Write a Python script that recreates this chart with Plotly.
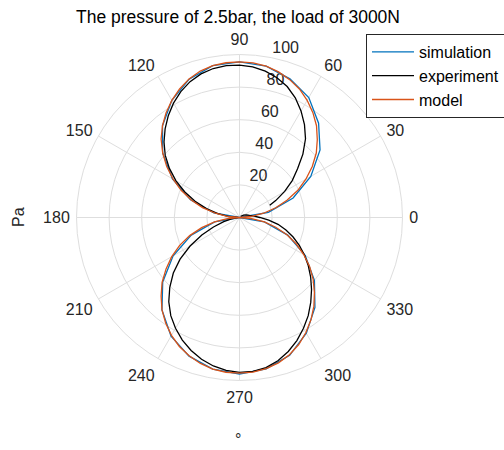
import plotly.graph_objects as go

# Angles (degrees) and pressure readings (Pa) for each series
theta_model = list(range(0, 361, 5))
r_model = [0, 7, 15, 23, 31, 39.5, 47, 54.5, 61.5, 67.5, 73.5, 78.5, 83, 87, 90,
           92.5, 94.3, 95.2, 95.5, 95.3, 94.6, 93, 90.5, 87, 83, 78.5, 73.5, 68,
           61.5, 54.5, 47, 39.5, 31.5, 23.5, 15, 7, 0,
           7.5, 15.5, 24, 32.5, 40.5, 48, 55, 62, 68, 74, 79, 83.5, 87.3, 90.3,
           92.7, 94.4, 95.3, 95.5, 95.2, 94.2, 92.3, 89.6, 86, 81.5, 76.5, 71,
           65, 59, 52.5, 45.5, 38.5, 31, 23, 15.5, 7.5, 0]

theta_sim = list(range(0, 361, 10))
r_sim = [0, 18, 35, 50.5, 64.5, 75.5, 85, 90.5, 94.3, 95.5,
         94.6, 90.3, 83, 73.5, 61.5, 47.5, 32, 16, 0,
         15.5, 31.5, 47, 61.5, 74, 84, 90.5, 94.5, 96,
         94.3, 90, 82, 72, 60, 46.5, 31.5, 15.5, 0]

theta_exp = [22, 25, 30, 35, 40, 45, 50, 55, 60, 65, 70, 75, 80, 85, 90, 95,
             100, 105, 110, 115, 120, 125, 130, 135, 140, 145, 150, 155, 160,
             165, 170, 175, 180, 185, 190, 195, 200, 205, 210, 215, 220, 225,
             230, 235, 240, 245, 250, 255, 260, 265, 270, 275, 280, 285, 290,
             295, 300, 305, 310, 315, 320, 325, 330, 335, 340, 345, 350, 355,
             360, 365, 370, 375, 380, 390, 400]
r_exp = [20, 24.5, 32, 39.5, 46.5, 55, 63, 69.5, 75.5, 81, 85.5, 88.8, 91.2,
         92.8, 93.5, 93.5, 92.8, 91.2, 88.7, 85.2, 81, 76.2, 71, 65.5, 59.5,
         52.5, 45, 37, 29, 21, 13.5, 6.5, 1, 2, 5, 10, 17, 25.5, 35, 44.5, 53,
         60.5, 67.5, 73.5, 78.5, 83, 86.8, 90, 92.5, 94.2, 95, 94.8, 93.5, 91,
         87.5, 83.3, 78.5, 73.5, 68, 62.5, 57, 51.5, 46, 40.5, 35, 29.5, 24, 18,
         12.5, 9, 6.8, 5.5, 4.5, 2.8, 1]

angle_ticks = list(range(0, 360, 30))
radial_ticks = [20, 40, 60, 80, 100]
radial_label_angle = 80

BLUE = "#0072BD"
ORANGE = "#D95319"
GRID = "#dedede"
TEXT = "#262626"
FONT = "Liberation Sans, Arial, sans-serif"

fig = go.Figure()

# radial tick labels, set just up-right of the 80 degree spoke
fig.add_trace(go.Scatterpolar(
    r=radial_ticks, theta=[radial_label_angle] * len(radial_ticks),
    mode="text", text=["\u00a0" + str(t) for t in radial_ticks],
    textposition="top right",
    textfont=dict(size=16, color=TEXT, family=FONT),
    cliponaxis=False, showlegend=False, hoverinfo="skip"))

fig.add_trace(go.Scatterpolar(theta=theta_sim, r=r_sim, mode="lines", name="simulation",
                              line=dict(color=BLUE, width=1.3)))
fig.add_trace(go.Scatterpolar(theta=theta_exp, r=r_exp, mode="lines", name="experiment",
                              line=dict(color="black", width=1.3)))
fig.add_trace(go.Scatterpolar(theta=theta_model, r=r_model, mode="lines", name="model",
                              line=dict(color=ORANGE, width=1.3)))

cx, cy, rad = 239.5, 217.5, 163
W, H = 504, 450

fig.update_layout(
    width=W, height=H,
    margin=dict(l=0, r=0, t=0, b=0, autoexpand=False),
    paper_bgcolor="white",
    font=dict(family=FONT, color=TEXT),
    title=dict(text="The pressure of 2.5bar, the load of 3000N",
               x=238 / W, y=1 - 17 / H, xanchor="center", yanchor="middle",
               font=dict(size=17.5, color="black", family=FONT)),
    polar=dict(
        domain=dict(x=[(cx - rad) / W, (cx + rad) / W],
                    y=[(H - cy - rad) / H, (H - cy + rad) / H]),
        bgcolor="white",
        angularaxis=dict(direction="counterclockwise", rotation=0,
                         tickmode="array", tickvals=angle_ticks,
                         ticktext=[str(t) for t in angle_ticks],
                         showline=True, linecolor=GRID, linewidth=1,
                         gridcolor=GRID, gridwidth=1,
                         ticks="outside", ticklen=3, tickcolor="rgba(0,0,0,0)",
                         tickfont=dict(size=16, color=TEXT)),
        radialaxis=dict(range=[0, 100], tickmode="array", tickvals=radial_ticks,
                        angle=radial_label_angle, showticklabels=False,
                        showline=False, ticks="",
                        gridcolor=GRID, gridwidth=1),
    ),
    legend=dict(x=366 / W, y=1 - 34 / H, xanchor="left", yanchor="top",
                bgcolor="white", bordercolor=TEXT, borderwidth=1,
                itemwidth=42,
                font=dict(size=16, color="black", family=FONT)),
    showlegend=True,
    annotations=[
        dict(text="Pa", x=18 / W, y=1 - 217 / H, xref="paper", yref="paper",
             xanchor="center", yanchor="middle",
             showarrow=False, textangle=-90, font=dict(size=16, color=TEXT)),
        dict(text="°", x=238 / W, y=0, xref="paper", yref="paper",
             xanchor="center", yanchor="bottom",
             showarrow=False, font=dict(size=16, color=TEXT)),
    ],
)

fig.write_html("out.html")
